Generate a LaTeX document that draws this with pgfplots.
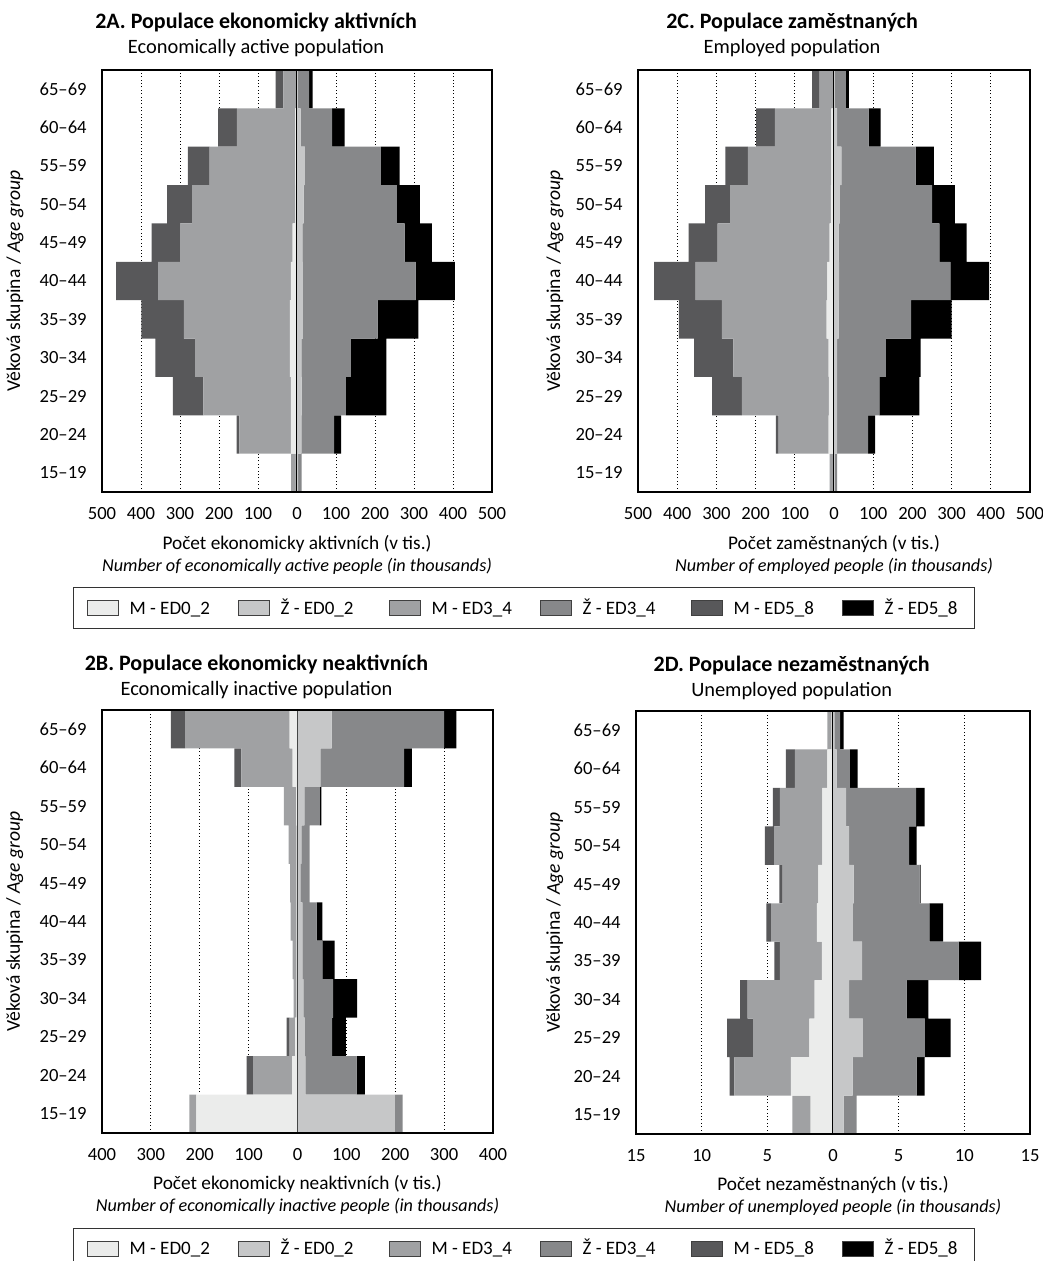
\documentclass[border=0pt]{standalone}
\usepackage{fontspec}
\setmainfont{Carlito}
\usepackage{pgfplots}
\usepackage{pgfplotstable}
\pgfplotsset{compat=1.18}

\definecolor{mA}{HTML}{EBECEB}
\definecolor{zA}{HTML}{C6C7C8}
\definecolor{mB}{HTML}{A0A1A3}
\definecolor{zB}{HTML}{87888A}
\definecolor{mC}{HTML}{58585A}
\definecolor{zC}{HTML}{000000}

% age: 0 = 15-19 ... 10 = 65-69; M values negative (left), Z positive (right)
% mA/zA = ED0_2, mB/zB = ED3_4, mC/zC = ED5_8
\pgfplotstableread{
age mA mB mC zA zB zC
0 -3 -12 0 3 9 0
1 -16 -132 -7 11 84 18
2 -16 -224 -78 12 113 104
3 -18 -243 -102 11 127 91
4 -18 -272 -109 15 192 104
5 -16 -340 -108 15 289 101
6 -11 -289 -73 14 262 70
7 -4 -265 -64 17 239 59
8 -5 -219 -56 20 195 48
9 -5 -149 -48 9 81 32
10 -2 -33 -20 2 29 9
}\tabActive

\pgfplotstableread{
age mA mB mC zA zB zC
0 -2 -9 0 2 6 0
1 -14 -127 -7 8 79 18
2 -13 -222 -76 8 108 102
3 -14 -243 -100 8 124 89
4 -19 -267 -110 12 185 103
5 -17 -336 -106 13 284 99
6 -11 -286 -74 12 257 69
7 -8 -257 -64 15 235 58
8 -7 -213 -57 19 189 47
9 -7 -144 -48 8 80 31
10 -2 -35 -19 2 28 8
}\tabEmployed

\pgfplotstableread{
age mA mB mC zA zB zC
0 -207 -14 0 199 16 0
1 -11 -80 -13 16 105 17
2 -5 -11 -6 15 56 28
3 -2 -6 0 12 61 49
4 -2 -8 0 10 41 25
5 -2 -12 0 10 29 12
6 -2 -13 0 6 19 0
7 -2 -16 0 8 17 0
8 -3 -25 0 14 32 3
9 -10 -105 -14 47 171 16
10 -16 -214 -29 70 230 25
}\tabInactive

\pgfplotstableread{
age mA mB mC zA zB zC
0 -1.7 -1.4 0 0.81 0.99 0
1 -3.2 -4.31 -0.36 1.5 4.87 0.61
2 -1.8 -4.29 -1.98 2.28 4.72 1.95
3 -1.4 -5.1 -0.58 1.22 4.39 1.65
4 -0.84 -3.2 -0.43 2.21 7.36 1.7
5 -1.22 -3.5 -0.36 1.52 5.82 1.04
6 -1.12 -2.71 -0.25 1.57 5.03 0.08
7 -0.81 -3.68 -0.69 1.22 4.57 0.58
8 -0.81 -3.23 -0.53 0.99 5.33 0.66
9 -0.43 -2.47 -0.68 0.28 1.01 0.58
10 -0.1 -0.33 0 0.1 0.45 0.25
}\tabUnemployed

\pgfplotsset{
  pyr/.style={
    scale only axis, anchor=north west,
    xbar stacked, bar width=1,
    ymin=-0.5, ymax=10.5, ytick={0,...,10},
    major tick length=0pt,
    axis line style={line width=0.6pt},
  },
  pyrback/.style={pyr,
    yticklabels={15–19,20–24,25–29,30–34,35–39,40–44,45–49,50–54,55–59,60–64,65–69},
    xmajorgrids,
    major grid style={black, line width=0.5pt, dash pattern=on 0.5pt off 1.2pt},
    tick label style={font=\fontsize{9.3}{10}\selectfont, inner sep=0pt},
    yticklabel style={anchor=east, xshift=-7.5pt},
    xticklabel style={anchor=base, yshift=-13.5pt},
    title style={anchor=north, inner sep=0pt, align=center,
      font=\fontsize{10}{12.5}\selectfont},
    xlabel style={at={(axis description cs:0.5,0)}, anchor=north, inner sep=0pt,
      align=center, font=\fontsize{9.1}{11}\selectfont},
    ylabel style={anchor=center, inner sep=0pt, font=\fontsize{9.8}{11}\selectfont},
    ylabel={Věková skupina / \textit{Age group}},
  },
  pyrfront/.style={pyr, axis on top, xtick=\empty, ytick=\empty},
  legswatch/.style={legend image code/.code={
    \draw[##1, draw=black!75, line width=0.5pt] (0pt,-3.75pt) rectangle (15.5pt,3.75pt);}},
  legbox/.style={legend columns=6,
    legend style={anchor=north west, draw=black!80, line width=0.6pt,
      inner xsep=6.5pt, inner ysep=3.6pt,
      font=\fontsize{9.5}{10}\selectfont,
      /tikz/every odd column/.append style={column sep=3.5pt}}},
  panelA/.style={at={(51pt,-35pt)}, width=195pt, height=211pt,
    xmin=-500, xmax=500, xtick={-500,-400,...,500},
    xticklabels={500,400,300,200,100,0,100,200,300,400,500}},
  panelC/.style={at={(319pt,-35pt)}, width=196pt, height=211pt,
    xmin=-500, xmax=500, xtick={-500,-400,...,500},
    xticklabels={500,400,300,200,100,0,100,200,300,400,500}},
  panelB/.style={at={(51pt,-355pt)}, width=195.5pt, height=211.5pt,
    xmin=-400, xmax=400, xtick={-400,-300,...,400},
    xticklabels={400,300,200,100,0,100,200,300,400}},
  panelD/.style={at={(318pt,-355.5pt)}, width=197pt, height=211.5pt,
    xmin=-15, xmax=15, xtick={-15,-10,...,15},
    xticklabels={15,10,5,0,5,10,15}},
}

\newcommand{\leftbars}[1]{%
  \addplot[fill=mA, draw=none, forget plot] table[x=mA, y=age] {#1};
  \addplot[fill=mB, draw=none, forget plot] table[x=mB, y=age] {#1};
  \addplot[fill=mC, draw=none, forget plot] table[x=mC, y=age] {#1};}
\newcommand{\rightbars}[1]{%
  \addplot[fill=zA, draw=none, forget plot] table[x=zA, y=age] {#1};
  \addplot[fill=zB, draw=none, forget plot] table[x=zB, y=age] {#1};
  \addplot[fill=zC, draw=none, forget plot] table[x=zC, y=age] {#1};
  \draw[line width=0.75pt] (axis cs:0,-0.5) -- (axis cs:0,10.5);}
\newcommand{\legtext}[1]{\makebox[52pt][l]{\vphantom{Žg}#1}}
\newcommand{\legendrow}{%
  \addlegendimage{legswatch, fill=mA}\addlegendentry{\legtext{M - ED0\_2}}
  \addlegendimage{legswatch, fill=zA}\addlegendentry{\legtext{Ž - ED0\_2}}
  \addlegendimage{legswatch, fill=mB}\addlegendentry{\legtext{M - ED3\_4}}
  \addlegendimage{legswatch, fill=zB}\addlegendentry{\legtext{Ž - ED3\_4}}
  \addlegendimage{legswatch, fill=mC}\addlegendentry{\legtext{M - ED5\_8}}
  \addlegendimage{legswatch, fill=zC}\addlegendentry{\vphantom{Žg}Ž - ED5\_8}}
\newcommand{\twotitle}[2]{{\fontsize{11}{12.5}\selectfont\bfseries #1}\\{\fontsize{10.2}{12.5}\selectfont #2}}
\newcommand{\twolabel}[2]{{\fontsize{9.65}{11}\selectfont #1}\\\textit{#2}}

\begin{document}
\begin{tikzpicture}
\useasboundingbox (0,0) rectangle (521pt,-630.5pt);

% 2A
\begin{axis}[pyrback, panelA,
  title={\twotitle{2A. Populace ekonomicky aktivních}{Economically active population}},
  title style={at={(axis description cs:0.395,1)}, yshift=22.6pt},
  xlabel={\twolabel{Počet ekonomicky aktivních (v tis.)}{Number of economically active people (in thousands)}},
  xlabel style={yshift=-21.5pt},
  ylabel style={at={(axis description cs:-0.223,0.5)}}]
\leftbars{\tabActive}
\end{axis}
\begin{axis}[panelA, pyrfront, legbox,
  legend style={at={(axis description cs:-0.0744,-0.2245)}}]
\rightbars{\tabActive}
\legendrow
\end{axis}

% 2C
\begin{axis}[pyrback, panelC,
  title={\twotitle{2C. Populace zaměstnaných}{Employed population}},
  title style={at={(axis description cs:0.393,1)}, yshift=22.6pt},
  xlabel={\twolabel{Počet zaměstnaných (v tis.)}{Number of employed people (in thousands)}},
  xlabel style={yshift=-21.5pt},
  ylabel style={at={(axis description cs:-0.212,0.5)}}]
\leftbars{\tabEmployed}
\end{axis}
\begin{axis}[panelC, pyrfront]
\rightbars{\tabEmployed}
\end{axis}

% 2B
\begin{axis}[pyrback, panelB,
  title={\twotitle{2B. Populace ekonomicky neaktivních}{Economically inactive population}},
  title style={at={(axis description cs:0.395,1)}, yshift=21.5pt},
  xlabel={\twolabel{Počet ekonomicky neaktivních (v tis.)}{Number of economically inactive people (in thousands)}},
  xlabel style={yshift=-21pt},
  ylabel style={at={(axis description cs:-0.223,0.5)}}]
\leftbars{\tabInactive}
\end{axis}
\begin{axis}[panelB, pyrfront, legbox,
  legend style={at={(axis description cs:-0.0742,-0.2235)}}]
\rightbars{\tabInactive}
\legendrow
\end{axis}

% 2D
\begin{axis}[pyrback, panelD,
  title={\twotitle{2D. Populace nezaměstnaných}{Unemployed population}},
  title style={at={(axis description cs:0.395,1)}, yshift=21.5pt},
  xlabel={\twolabel{Počet nezaměstnaných (v tis.)}{Number of unemployed people (in thousands)}},
  xlabel style={yshift=-21pt},
  ylabel style={at={(axis description cs:-0.206,0.5)}}]
\leftbars{\tabUnemployed}
\end{axis}
\begin{axis}[panelD, pyrfront]
\rightbars{\tabUnemployed}
\end{axis}
\end{tikzpicture}
\end{document}
